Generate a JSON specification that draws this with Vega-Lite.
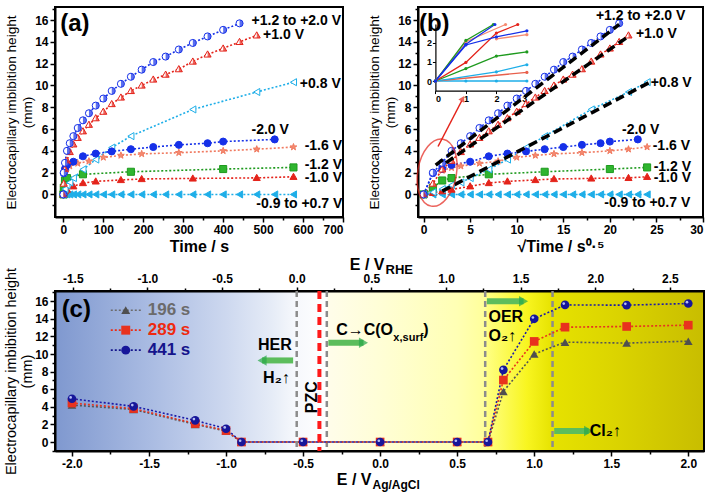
{
"$schema": "https://vega.github.io/schema/vega-lite/v6.json",
"background": "white",
"padding": {"left": 2, "top": 2, "right": 2, "bottom": 2},
"datasets": {
"ab": [
{"s":"-0.9 to +0.7 V","rt":0,"t":0,"h":0},{"s":"-0.9 to +0.7 V","rt":1,"t":1,"h":0},{"s":"-0.9 to +0.7 V","rt":2,"t":4,"h":0},{"s":"-0.9 to +0.7 V","rt":3,"t":9,"h":0},{"s":"-0.9 to +0.7 V","rt":4,"t":16,"h":0},{"s":"-0.9 to +0.7 V","rt":5,"t":25,"h":0},{"s":"-0.9 to +0.7 V","rt":6,"t":36,"h":0},{"s":"-0.9 to +0.7 V","rt":7,"t":49,"h":0},{"s":"-0.9 to +0.7 V","rt":8,"t":64,"h":0},{"s":"-0.9 to +0.7 V","rt":9,"t":81,"h":0},{"s":"-0.9 to +0.7 V","rt":10,"t":100,"h":0},{"s":"-0.9 to +0.7 V","rt":11,"t":121,"h":0},{"s":"-0.9 to +0.7 V","rt":12,"t":144,"h":0},{"s":"-0.9 to +0.7 V","rt":13,"t":169,"h":0},{"s":"-0.9 to +0.7 V","rt":14,"t":196,"h":0},{"s":"-0.9 to +0.7 V","rt":15,"t":225,"h":0},{"s":"-0.9 to +0.7 V","rt":16,"t":256,"h":0},{"s":"-0.9 to +0.7 V","rt":17,"t":289,"h":0},{"s":"-0.9 to +0.7 V","rt":18,"t":324,"h":0},{"s":"-0.9 to +0.7 V","rt":19,"t":361,"h":0},{"s":"-0.9 to +0.7 V","rt":20,"t":400,"h":0},{"s":"-0.9 to +0.7 V","rt":21,"t":441,"h":0},{"s":"-0.9 to +0.7 V","rt":22,"t":484,"h":0},{"s":"-0.9 to +0.7 V","rt":23,"t":529,"h":0},{"s":"-0.9 to +0.7 V","rt":24,"t":576,"h":0},
{"s":"-1.0 V","rt":0,"t":0,"h":0},{"s":"-1.0 V","rt":1,"t":1,"h":0.15},{"s":"-1.0 V","rt":2,"t":4,"h":0.3},{"s":"-1.0 V","rt":3,"t":9,"h":0.45},{"s":"-1.0 V","rt":5,"t":25,"h":0.75},{"s":"-1.0 V","rt":7,"t":49,"h":1.05},{"s":"-1.0 V","rt":9,"t":81,"h":1.2},{"s":"-1.0 V","rt":12,"t":144,"h":1.33},{"s":"-1.0 V","rt":14,"t":196,"h":1.42},{"s":"-1.0 V","rt":18,"t":324,"h":1.47},{"s":"-1.0 V","rt":22,"t":484,"h":1.52},{"s":"-1.0 V","rt":24,"t":576,"h":1.62},
{"s":"-1.2 V","rt":0,"t":0,"h":0},{"s":"-1.2 V","rt":1,"t":1,"h":0.62},{"s":"-1.2 V","rt":2,"t":4,"h":1.28},{"s":"-1.2 V","rt":3,"t":9,"h":1.5},{"s":"-1.2 V","rt":7,"t":49,"h":1.85},{"s":"-1.2 V","rt":13,"t":169,"h":2.08},{"s":"-1.2 V","rt":20,"t":400,"h":2.33},{"s":"-1.2 V","rt":24,"t":576,"h":2.48},
{"s":"-1.6 V","rt":2,"t":4,"h":2.2},{"s":"-1.6 V","rt":3,"t":9,"h":2.45},{"s":"-1.6 V","rt":4,"t":16,"h":2.6},{"s":"-1.6 V","rt":6,"t":36,"h":2.85},{"s":"-1.6 V","rt":8,"t":64,"h":3.05},{"s":"-1.6 V","rt":10,"t":100,"h":3.4},{"s":"-1.6 V","rt":12,"t":144,"h":3.58},{"s":"-1.6 V","rt":14,"t":196,"h":3.72},{"s":"-1.6 V","rt":17,"t":289,"h":3.83},{"s":"-1.6 V","rt":20,"t":400,"h":4.0},{"s":"-1.6 V","rt":22,"t":484,"h":4.15},{"s":"-1.6 V","rt":24,"t":576,"h":4.35},
{"s":"+0.8 V","rt":0,"t":0,"h":0},{"s":"+0.8 V","rt":1,"t":1,"h":0.2},{"s":"+0.8 V","rt":2,"t":4,"h":0.5},{"s":"+0.8 V","rt":3,"t":9,"h":0.85},{"s":"+0.8 V","rt":4,"t":16,"h":1.1},{"s":"+0.8 V","rt":5,"t":25,"h":1.5},{"s":"+0.8 V","rt":7,"t":49,"h":2.3},{"s":"+0.8 V","rt":9,"t":81,"h":3.2},{"s":"+0.8 V","rt":11,"t":121,"h":4.3},{"s":"+0.8 V","rt":13,"t":169,"h":5.35},{"s":"+0.8 V","rt":18,"t":324,"h":7.8},{"s":"+0.8 V","rt":22,"t":484,"h":9.4},{"s":"+0.8 V","rt":24,"t":576,"h":10.3},
{"s":"-2.0 V","rt":0,"t":0,"h":0},{"s":"-2.0 V","rt":1,"t":1,"h":1.95},{"s":"-2.0 V","rt":2,"t":4,"h":2.35},{"s":"-2.0 V","rt":3,"t":9,"h":2.7},{"s":"-2.0 V","rt":5,"t":25,"h":3.0},{"s":"-2.0 V","rt":7,"t":49,"h":3.5},{"s":"-2.0 V","rt":9,"t":81,"h":3.75},{"s":"-2.0 V","rt":11,"t":121,"h":3.95},{"s":"-2.0 V","rt":13,"t":169,"h":4.15},{"s":"-2.0 V","rt":15,"t":225,"h":4.35},{"s":"-2.0 V","rt":17,"t":289,"h":4.55},{"s":"-2.0 V","rt":19,"t":361,"h":4.7},{"s":"-2.0 V","rt":20,"t":400,"h":4.85},{"s":"-2.0 V","rt":23,"t":529,"h":5.05},
{"s":"+1.0 V","rt":0,"t":0,"h":0},{"s":"+1.0 V","rt":1,"t":1,"h":1.0},{"s":"+1.0 V","rt":2,"t":4,"h":2.3},{"s":"+1.0 V","rt":3,"t":9,"h":3.1},{"s":"+1.0 V","rt":4,"t":16,"h":3.9},{"s":"+1.0 V","rt":5,"t":25,"h":4.6},{"s":"+1.0 V","rt":6,"t":36,"h":5.2},{"s":"+1.0 V","rt":7,"t":49,"h":5.8},{"s":"+1.0 V","rt":8,"t":64,"h":6.4},{"s":"+1.0 V","rt":9,"t":81,"h":7.0},{"s":"+1.0 V","rt":10,"t":100,"h":7.6},{"s":"+1.0 V","rt":11,"t":121,"h":8.3},{"s":"+1.0 V","rt":12,"t":144,"h":8.9},{"s":"+1.0 V","rt":13,"t":169,"h":9.5},{"s":"+1.0 V","rt":14,"t":196,"h":10.0},{"s":"+1.0 V","rt":15,"t":225,"h":10.55},{"s":"+1.0 V","rt":16,"t":256,"h":11.0},{"s":"+1.0 V","rt":17,"t":289,"h":11.5},{"s":"+1.0 V","rt":18,"t":324,"h":12.2},{"s":"+1.0 V","rt":19,"t":361,"h":12.85},{"s":"+1.0 V","rt":20,"t":400,"h":13.4},{"s":"+1.0 V","rt":21,"t":441,"h":14.0},{"s":"+1.0 V","rt":22,"t":484,"h":14.6},
{"s":"+1.2 to +2.0 V","rt":0,"t":0,"h":0},{"s":"+1.2 to +2.0 V","rt":1,"t":1,"h":2.0},{"s":"+1.2 to +2.0 V","rt":2,"t":4,"h":2.9},{"s":"+1.2 to +2.0 V","rt":3,"t":9,"h":4.0},{"s":"+1.2 to +2.0 V","rt":4,"t":16,"h":4.7},{"s":"+1.2 to +2.0 V","rt":5,"t":25,"h":5.35},{"s":"+1.2 to +2.0 V","rt":6,"t":36,"h":6.1},{"s":"+1.2 to +2.0 V","rt":7,"t":49,"h":6.8},{"s":"+1.2 to +2.0 V","rt":8,"t":64,"h":7.45},{"s":"+1.2 to +2.0 V","rt":9,"t":81,"h":8.15},{"s":"+1.2 to +2.0 V","rt":10,"t":100,"h":8.8},{"s":"+1.2 to +2.0 V","rt":11,"t":121,"h":9.5},{"s":"+1.2 to +2.0 V","rt":12,"t":144,"h":10.15},{"s":"+1.2 to +2.0 V","rt":13,"t":169,"h":10.8},{"s":"+1.2 to +2.0 V","rt":14,"t":196,"h":11.45},{"s":"+1.2 to +2.0 V","rt":15,"t":225,"h":12.15},{"s":"+1.2 to +2.0 V","rt":16,"t":256,"h":12.65},{"s":"+1.2 to +2.0 V","rt":17,"t":289,"h":13.3},{"s":"+1.2 to +2.0 V","rt":18,"t":324,"h":13.9},{"s":"+1.2 to +2.0 V","rt":19,"t":361,"h":14.5},{"s":"+1.2 to +2.0 V","rt":20,"t":400,"h":15.1},{"s":"+1.2 to +2.0 V","rt":21,"t":441,"h":15.7}
],
"labA": [
{"label":"+1.2 to +2.0 V","t":471,"h":15.96},{"label":"+1.0 V","t":500,"h":14.6},{"label":"+0.8 V","t":592,"h":10.16},{"label":"-2.0 V","t":471,"h":5.94},{"label":"-1.6 V","t":604,"h":4.4},{"label":"-1.2 V","t":604,"h":2.72},{"label":"-1.0 V","t":604,"h":1.5},{"label":"-0.9 to +0.7  V","t":483,"h":-0.85}
],
"labB": [
{"label":"+1.2 to +2.0 V","rt":18.5,"h":16.4},{"label":"+1.0 V","rt":22.8,"h":14.7},{"label":"+0.8 V","rt":24.4,"h":10.25},{"label":"-2.0 V","rt":21.3,"h":5.94},{"label":"-1.6 V","rt":24.6,"h":4.4},{"label":"-1.2 V","rt":24.7,"h":2.5},{"label":"-1.0 V","rt":24.7,"h":1.53},{"label":"-0.9 to +0.7  V","rt":19.4,"h":-0.79}
],
"fits": [
{"f":"F1","rt":1.3,"h":2.7},{"f":"F1","rt":21,"h":15.6},{"f":"F2","rt":2.4,"h":2.9},{"f":"F2","rt":22,"h":14.5},{"f":"F3","rt":2.0,"h":0.3},{"f":"F3","rt":24.3,"h":10.3}
],
"inset": [
{"s":"i_cyan2","x":0,"y":0},{"s":"i_cyan2","x":1,"y":0},{"s":"i_cyan2","x":2,"y":0},{"s":"i_cyan2","x":3,"y":0},
{"s":"i_red2","x":0,"y":0},{"s":"i_red2","x":3,"y":0.45},
{"s":"i_cyan1","x":0,"y":0},{"s":"i_cyan1","x":2,"y":0.48},{"s":"i_cyan1","x":3,"y":0.85},
{"s":"i_green2","x":0,"y":0},{"s":"i_green2","x":1,"y":0.65},{"s":"i_green2","x":2,"y":1.3},{"s":"i_green2","x":3,"y":1.52},
{"s":"i_salmon2","x":2,"y":2.2},{"s":"i_salmon2","x":3,"y":2.42},
{"s":"i_red1","x":0,"y":0},{"s":"i_red1","x":1,"y":0.97},{"s":"i_red1","x":2,"y":2.5},{"s":"i_red1","x":2.7,"y":2.95},
{"s":"i_salmon1","x":0,"y":0},{"s":"i_salmon1","x":1,"y":2.05},{"s":"i_salmon1","x":2.3,"y":2.95},
{"s":"i_green1","x":0,"y":0},{"s":"i_green1","x":1,"y":2.12},{"s":"i_green1","x":1.9,"y":2.95},
{"s":"i_blue1","x":0,"y":0},{"s":"i_blue1","x":1,"y":1.92},{"s":"i_blue1","x":1.95,"y":2.95},
{"s":"i_blue2","x":0,"y":0},{"s":"i_blue2","x":1,"y":1.88},{"s":"i_blue2","x":2,"y":2.3},{"s":"i_blue2","x":3,"y":2.62}
],
"c": [
{"time":"196 s","E":-2.0,"h":4.2},{"time":"196 s","E":-1.6,"h":3.7},{"time":"196 s","E":-1.2,"h":2.0},{"time":"196 s","E":-1.0,"h":1.25},{"time":"196 s","E":-0.9,"h":0},{"time":"196 s","E":-0.5,"h":0},{"time":"196 s","E":0.0,"h":0},{"time":"196 s","E":0.5,"h":0},{"time":"196 s","E":0.7,"h":0},{"time":"196 s","E":0.8,"h":5.75},{"time":"196 s","E":1.0,"h":10.0},{"time":"196 s","E":1.2,"h":11.35},{"time":"196 s","E":1.6,"h":11.24},{"time":"196 s","E":2.0,"h":11.46},
{"time":"289 s","E":-2.0,"h":4.43},{"time":"289 s","E":-1.6,"h":3.8},{"time":"289 s","E":-1.2,"h":2.1},{"time":"289 s","E":-1.0,"h":1.3},{"time":"289 s","E":-0.9,"h":0},{"time":"289 s","E":-0.5,"h":0},{"time":"289 s","E":0.0,"h":0},{"time":"289 s","E":0.5,"h":0},{"time":"289 s","E":0.7,"h":0},{"time":"289 s","E":0.8,"h":7.04},{"time":"289 s","E":1.0,"h":11.43},{"time":"289 s","E":1.2,"h":13.05},{"time":"289 s","E":1.6,"h":13.13},{"time":"289 s","E":2.0,"h":13.28},
{"time":"441 s","E":-2.0,"h":4.92},{"time":"441 s","E":-1.6,"h":4.05},{"time":"441 s","E":-1.2,"h":2.46},{"time":"441 s","E":-1.0,"h":1.51},{"time":"441 s","E":-0.9,"h":0},{"time":"441 s","E":-0.5,"h":0},{"time":"441 s","E":0.0,"h":0},{"time":"441 s","E":0.5,"h":0},{"time":"441 s","E":0.7,"h":0},{"time":"441 s","E":0.8,"h":8.2},{"time":"441 s","E":1.0,"h":14.0},{"time":"441 s","E":1.2,"h":15.58},{"time":"441 s","E":1.6,"h":15.55},{"time":"441 s","E":2.0,"h":15.74}
],
"legC": [
{"time":"196 s","h":14.98},{"time":"289 s","h":12.71},{"time":"441 s","h":10.44}
],
"cTxt": [
{"txt":"OER","E":0.703,"h":14.2},{"txt":"O₂↑","E":0.703,"h":12.1},{"txt":"Cl₂↑","E":1.36,"h":1.25},{"txt":")","E":0.28,"h":12.75}
],
"arrAg": [
{"E1":-0.336,"E2":-0.108,"h":11.27},{"E1":0.693,"E2":0.931,"h":16.0},{"E1":1.13,"E2":1.353,"h":1.25}
]
},
"vconcat": [
{
"hconcat": [
{
"width": 288, "height": 210,
"view": {"stroke": "black", "strokeWidth": 2, "fill": "white"},
"layer": [
{"data": {"name": "ab"}, "mark": {"type": "line", "strokeDash": [2, 2], "strokeWidth": 1.6},
 "encoding": {
  "x": {"field": "t", "type": "quantitative", "scale": {"domain": [-21, 700], "nice": false, "zero": false},
        "axis": {"title": "Time / s", "titleFontSize": 16, "titlePadding": 3, "format": "d", "tickCount": 100, "values": [0,50,100,150,200,250,300,350,400,450,500,550,600,650,700], "labelExpr": "datum.value % 100 === 0 ? datum.label : ''", "tickSize": {"condition": {"test": "datum.value % 100 !== 0", "value": 3}, "value": 5}, "labelOverlap": false}},
  "y": {"field": "h", "type": "quantitative", "scale": {"domain": [-2.07, 17.2], "nice": false, "zero": false},
        "axis": {"title": ["Electrocapillary imbibition height", "(mm)"], "titleFontWeight": "normal", "titleFontSize": 13.6, "titleLineHeight": 16, "titlePadding": 0, "format": "d", "tickCount": 100, "values": [-1,0,1,2,3,4,5,6,7,8,9,10,11,12,13,14,15,16,17], "labelExpr": "datum.value % 2 === 0 && datum.value >= 0 && datum.value <= 16 ? datum.label : ''", "tickSize": {"condition": {"test": "datum.value % 2 !== 0", "value": 3}, "value": 5}, "labelOverlap": false}},
  "stroke": {"field": "s", "type": "nominal", "scale": {"domain": ["-0.9 to +0.7 V","-1.0 V","-1.2 V","-1.6 V","+0.8 V","-2.0 V","+1.0 V","+1.2 to +2.0 V"], "range": ["#1eaee8","#e4231a","#1e9a1e","#f07a60","#1eaee8","#1530e8","#e4231a","#1530e8"]}, "legend": null}
 }},
{"data": {"name": "ab"}, "mark": {"type": "point", "filled": true, "size": 50, "strokeWidth": 1, "opacity": 1},
 "encoding": {
  "x": {"field": "t", "type": "quantitative", "scale": {"domain": [-21, 700], "nice": false, "zero": false}},
  "y": {"field": "h", "type": "quantitative", "scale": {"domain": [-2.07, 17.2], "nice": false, "zero": false}},
  "stroke": {"field": "s", "type": "nominal", "scale": {"domain": ["-0.9 to +0.7 V","-1.0 V","-1.2 V","-1.6 V","+0.8 V","-2.0 V","+1.0 V","+1.2 to +2.0 V"], "range": ["#1eaee8","#e4231a","#1e9a1e","#f07a60","#1eaee8","#1530e8","#e4231a","#1530e8"]}, "legend": null},
  "fill": {"field": "s", "type": "nominal", "scale": {"domain": ["-0.9 to +0.7 V","-1.0 V","-1.2 V","-1.6 V","+0.8 V","-2.0 V","+1.0 V","+1.2 to +2.0 V"], "range": ["#1eaee8","#e4231a","#2fb52f","#f58a70","#ffffff","#1530e8","#ffffff","#ffffff"]}, "legend": null},
  "shape": {"field": "s", "type": "nominal", "scale": {"domain": ["-0.9 to +0.7 V","-1.0 V","-1.2 V","-1.6 V","+0.8 V","-2.0 V","+1.0 V","+1.2 to +2.0 V"], "range": ["triangle-left","M0,-1L1,0.75L-1,0.75Z","square","M0,-1L0.235,-0.324L0.951,-0.309L0.38,0.124L0.588,0.809L0,0.4L-0.588,0.809L-0.38,0.124L-0.951,-0.309L-0.235,-0.324Z","triangle-left","circle","M0,-1L1,0.75L-1,0.75Z","circle"]}, "legend": null}
 }},
{"data": {"name": "ab"}, "transform": [{"filter": "datum.s === '+1.2 to +2.0 V'"}],
 "mark": {"type": "point", "filled": true, "size": 50, "shape": "M0,-1A1,1,0,0,1,0,1Z", "fill": "#1530e8", "strokeWidth": 0},
 "encoding": {
  "x": {"field": "t", "type": "quantitative", "scale": {"domain": [-21, 700], "nice": false, "zero": false}},
  "y": {"field": "h", "type": "quantitative", "scale": {"domain": [-2.07, 17.2], "nice": false, "zero": false}}
 }},
{"data": {"name": "ab"}, "transform": [{"filter": "datum.s === '+1.0 V'"}],
 "mark": {"type": "point", "filled": true, "size": 50, "shape": "M0,-1L1,0.75L0,0.75Z", "fill": "#e4231a", "strokeWidth": 0},
 "encoding": {
  "x": {"field": "t", "type": "quantitative", "scale": {"domain": [-21, 700], "nice": false, "zero": false}},
  "y": {"field": "h", "type": "quantitative", "scale": {"domain": [-2.07, 17.2], "nice": false, "zero": false}}
 }},
{"data": {"name": "labA"}, "mark": {"type": "text", "align": "left", "baseline": "middle", "fontSize": 14, "fontWeight": "bold", "color": "black"},
 "encoding": {
  "x": {"field": "t", "type": "quantitative", "scale": {"domain": [-21, 700], "nice": false, "zero": false}},
  "y": {"field": "h", "type": "quantitative", "scale": {"domain": [-2.07, 17.2], "nice": false, "zero": false}},
  "text": {"field": "label"}
 }},
{"data": {"values": [{"tag": "(a)", "t": -8, "h": 15.66}]}, "mark": {"type": "text", "align": "left", "baseline": "middle", "fontSize": 24, "fontWeight": "bold", "color": "black"},
 "encoding": {
  "x": {"field": "t", "type": "quantitative", "scale": {"domain": [-21, 700], "nice": false, "zero": false}},
  "y": {"field": "h", "type": "quantitative", "scale": {"domain": [-2.07, 17.2], "nice": false, "zero": false}},
  "text": {"field": "tag"}
 }}
]
},
{
"width": 285, "height": 210,
"view": {"stroke": "black", "strokeWidth": 2, "fill": "white"},
"layer": [
{"layer": [
{"data": {"name": "ab"}, "mark": {"type": "line", "strokeDash": [2, 2], "strokeWidth": 1.6},
 "encoding": {
  "x": {"field": "rt", "type": "quantitative", "scale": {"domain": [-0.6, 30], "nice": false, "zero": false},
        "axis": {"title": "√Time / s⁰·⁵", "titleFontSize": 16, "titlePadding": 3, "format": "d", "tickCount": 100, "values": [0,2.5,5,7.5,10,12.5,15,17.5,20,22.5,25,27.5,30], "labelExpr": "datum.value % 5 === 0 ? datum.label : ''", "tickSize": {"condition": {"test": "datum.value % 5 !== 0", "value": 3}, "value": 5}, "labelOverlap": false}},
  "y": {"field": "h", "type": "quantitative", "scale": {"domain": [-2.07, 17.2], "nice": false, "zero": false},
        "axis": {"title": ["Electrocapillary imbibition height", "(mm)"], "titleFontWeight": "normal", "titleFontSize": 13.6, "titleLineHeight": 16, "titlePadding": 0, "format": "d", "tickCount": 100, "values": [-1,0,1,2,3,4,5,6,7,8,9,10,11,12,13,14,15,16,17], "labelExpr": "datum.value % 2 === 0 && datum.value >= 0 && datum.value <= 16 ? datum.label : ''", "tickSize": {"condition": {"test": "datum.value % 2 !== 0", "value": 3}, "value": 5}, "labelOverlap": false}},
  "stroke": {"field": "s", "type": "nominal", "scale": {"domain": ["-0.9 to +0.7 V","-1.0 V","-1.2 V","-1.6 V","+0.8 V","-2.0 V","+1.0 V","+1.2 to +2.0 V"], "range": ["#1eaee8","#e4231a","#1e9a1e","#f07a60","#1eaee8","#1530e8","#e4231a","#1530e8"]}, "legend": null}
 }},
{"data": {"name": "ab"}, "mark": {"type": "point", "filled": true, "size": 50, "strokeWidth": 1, "opacity": 1},
 "encoding": {
  "x": {"field": "rt", "type": "quantitative", "scale": {"domain": [-0.6, 30], "nice": false, "zero": false}},
  "y": {"field": "h", "type": "quantitative", "scale": {"domain": [-2.07, 17.2], "nice": false, "zero": false}},
  "stroke": {"field": "s", "type": "nominal", "scale": {"domain": ["-0.9 to +0.7 V","-1.0 V","-1.2 V","-1.6 V","+0.8 V","-2.0 V","+1.0 V","+1.2 to +2.0 V"], "range": ["#1eaee8","#e4231a","#1e9a1e","#f07a60","#1eaee8","#1530e8","#e4231a","#1530e8"]}, "legend": null},
  "fill": {"field": "s", "type": "nominal", "scale": {"domain": ["-0.9 to +0.7 V","-1.0 V","-1.2 V","-1.6 V","+0.8 V","-2.0 V","+1.0 V","+1.2 to +2.0 V"], "range": ["#1eaee8","#e4231a","#2fb52f","#f58a70","#ffffff","#1530e8","#ffffff","#ffffff"]}, "legend": null},
  "shape": {"field": "s", "type": "nominal", "scale": {"domain": ["-0.9 to +0.7 V","-1.0 V","-1.2 V","-1.6 V","+0.8 V","-2.0 V","+1.0 V","+1.2 to +2.0 V"], "range": ["triangle-left","M0,-1L1,0.75L-1,0.75Z","square","M0,-1L0.235,-0.324L0.951,-0.309L0.38,0.124L0.588,0.809L0,0.4L-0.588,0.809L-0.38,0.124L-0.951,-0.309L-0.235,-0.324Z","triangle-left","circle","M0,-1L1,0.75L-1,0.75Z","circle"]}, "legend": null}
 }},
{"data": {"name": "ab"}, "transform": [{"filter": "datum.s === '+1.2 to +2.0 V'"}],
 "mark": {"type": "point", "filled": true, "size": 50, "shape": "M0,-1A1,1,0,0,1,0,1Z", "fill": "#1530e8", "strokeWidth": 0},
 "encoding": {
  "x": {"field": "rt", "type": "quantitative", "scale": {"domain": [-0.6, 30], "nice": false, "zero": false}},
  "y": {"field": "h", "type": "quantitative", "scale": {"domain": [-2.07, 17.2], "nice": false, "zero": false}}
 }},
{"data": {"name": "ab"}, "transform": [{"filter": "datum.s === '+1.0 V'"}],
 "mark": {"type": "point", "filled": true, "size": 50, "shape": "M0,-1L1,0.75L0,0.75Z", "fill": "#e4231a", "strokeWidth": 0},
 "encoding": {
  "x": {"field": "rt", "type": "quantitative", "scale": {"domain": [-0.6, 30], "nice": false, "zero": false}},
  "y": {"field": "h", "type": "quantitative", "scale": {"domain": [-2.07, 17.2], "nice": false, "zero": false}}
 }},
{"data": {"name": "fits"}, "mark": {"type": "line", "color": "black", "strokeWidth": 3.5, "strokeDash": [9, 5]},
 "encoding": {
  "x": {"field": "rt", "type": "quantitative", "scale": {"domain": [-0.6, 30], "nice": false, "zero": false}},
  "y": {"field": "h", "type": "quantitative", "scale": {"domain": [-2.07, 17.2], "nice": false, "zero": false}},
  "detail": {"field": "f"}
 }},
{"data": {"values": [{"rt": 1.45, "h": 2.0}]}, "mark": {"type": "point", "filled": false, "shape": "M0,-1A0.57,1,0,0,1,0,1A0.57,1,0,0,1,0,-1Z", "size": 4624, "stroke": "#e4231a", "strokeWidth": 1.5, "angle": 10},
 "encoding": {
  "x": {"field": "rt", "type": "quantitative", "scale": {"domain": [-0.6, 30], "nice": false, "zero": false}},
  "y": {"field": "h", "type": "quantitative", "scale": {"domain": [-2.07, 17.2], "nice": false, "zero": false}}
 }},
{"data": {"values": [{"rt": 1.55, "h": 4.4, "rt2": 4.1, "h2": 8.6}]}, "mark": {"type": "rule", "color": "#e4231a", "strokeWidth": 1.5},
 "encoding": {
  "x": {"field": "rt", "type": "quantitative", "scale": {"domain": [-0.6, 30], "nice": false, "zero": false}},
  "y": {"field": "h", "type": "quantitative", "scale": {"domain": [-2.07, 17.2], "nice": false, "zero": false}},
  "x2": {"field": "rt2"}, "y2": {"field": "h2"}
 }},
{"data": {"values": [{"rt": 4.2, "h": 8.8}]}, "mark": {"type": "point", "filled": true, "shape": "triangle-up", "size": 45, "color": "#e4231a", "angle": 30},
 "encoding": {
  "x": {"field": "rt", "type": "quantitative", "scale": {"domain": [-0.6, 30], "nice": false, "zero": false}},
  "y": {"field": "h", "type": "quantitative", "scale": {"domain": [-2.07, 17.2], "nice": false, "zero": false}}
 }},
{"data": {"name": "labB"}, "mark": {"type": "text", "align": "left", "baseline": "middle", "fontSize": 14, "fontWeight": "bold", "color": "black"},
 "encoding": {
  "x": {"field": "rt", "type": "quantitative", "scale": {"domain": [-0.6, 30], "nice": false, "zero": false}},
  "y": {"field": "h", "type": "quantitative", "scale": {"domain": [-2.07, 17.2], "nice": false, "zero": false}},
  "text": {"field": "label"}
 }},
{"data": {"values": [{"tag": "(b)", "rt": -0.5, "h": 15.66}]}, "mark": {"type": "text", "align": "left", "baseline": "middle", "fontSize": 24, "fontWeight": "bold", "color": "black"},
 "encoding": {
  "x": {"field": "rt", "type": "quantitative", "scale": {"domain": [-0.6, 30], "nice": false, "zero": false}},
  "y": {"field": "h", "type": "quantitative", "scale": {"domain": [-2.07, 17.2], "nice": false, "zero": false}},
  "text": {"field": "tag"}
 }}
]},
{"data": {"name": "inset"}, "mark": {"type": "line", "strokeWidth": 1.3, "point": {"filled": true, "size": 10}},
 "encoding": {
  "x": {"field": "x", "type": "quantitative", "scale": {"domain": [0, 3.03], "range": [17.4, 109.8], "nice": false, "zero": false},
        "axis": {"orient": "bottom", "offset": -126.4, "tickCount": 100, "values": [0, 1, 2, 3], "title": null, "labelFontSize": 9, "tickSize": 3, "tickWidth": 1, "domainWidth": 1.2, "labelPadding": 1, "format": "d"}},
  "y": {"field": "y", "type": "quantitative", "scale": {"domain": [-0.5, 2.97], "range": [83.6, 17.1], "nice": false, "zero": false},
        "axis": {"orient": "left", "offset": -17.4, "tickCount": 100, "values": [0, 1, 2], "title": null, "labelFontSize": 9, "tickSize": 3, "tickWidth": 1, "domainWidth": 1.2, "labelPadding": 1, "format": "d"}},
  "color": {"field": "s", "type": "nominal", "scale": {"domain": ["i_cyan2","i_red2","i_cyan1","i_green2","i_salmon2","i_red1","i_salmon1","i_green1","i_blue1","i_blue2"], "range": ["#1eaee8","#e8604c","#1eaee8","#1e9a1e","#f58a70","#e4231a","#f58a70","#1e9a1e","#1530e8","#1530e8"]}, "legend": null}
 }}
],
"resolve": {"scale": {"x": "independent", "y": "independent"}, "axis": {"x": "independent", "y": "independent"}}
}
],
"spacing": 75,
"bounds": "flush"
},
{
"width": 649, "height": 160,
"view": {"stroke": "black", "strokeWidth": 2,
  "fill": {"gradient": "linear", "x1": 0, "y1": 0, "x2": 1, "y2": 0, "stops": [
    {"offset": 0, "color": "#7f98cf"},{"offset": 0.145, "color": "#a9bbe2"},{"offset": 0.264, "color": "#cdd8ef"},{"offset": 0.335, "color": "#e6ecf7"},{"offset": 0.37, "color": "#f6f8fc"},{"offset": 0.419, "color": "#ffffff"},{"offset": 0.421, "color": "#fffdea"},{"offset": 0.501, "color": "#fffed6"},{"offset": 0.62, "color": "#ffffb4"},{"offset": 0.662, "color": "#ffff9a"},{"offset": 0.667, "color": "#ffff80"},{"offset": 0.727, "color": "#f8f520"},{"offset": 0.767, "color": "#e6e200"},{"offset": 0.857, "color": "#dcd500"},{"offset": 1, "color": "#c8bd00"}]}},
"layer": [
{"layer": [
{"data": {"values": [{"E": -0.346}, {"E": 0.682}, {"E": 1.119}]}, "mark": {"type": "rule", "color": "#8c8c8c", "strokeWidth": 2.5, "strokeDash": [6, 4]},
 "encoding": {
  "x": {"field": "E", "type": "quantitative", "scale": {"domain": [-2.11, 2.102], "nice": false, "zero": false},
        "axis": {"orient": "bottom", "title": "E / V", "titleFontSize": 16, "titleX": 316, "titleY": 33, "titleAlign": "right", "titleBaseline": "alphabetic", "tickCount": 100, "values": [-2,-1.75,-1.5,-1.25,-1,-0.75,-0.5,-0.25,0,0.25,0.5,0.75,1,1.25,1.5,1.75,2], "labelExpr": "abs(datum.value * 2 - round(datum.value * 2)) < 0.001 ? replace(format(datum.value, '.1f'), '\u2212', '-') : ''", "tickSize": {"condition": {"test": "abs(datum.value * 2 - round(datum.value * 2)) >= 0.001", "value": 3}, "value": 5}, "labelOverlap": false}}
 }},
{"data": {"name": "c"}, "transform": [{"filter": "datum.time === '196 s'"}], "mark": {"type": "line", "strokeDash": [2, 2], "strokeWidth": 1.6, "color": "#555555"},
 "encoding": {
  "x": {"field": "E", "type": "quantitative", "scale": {"domain": [-2.11, 2.102], "nice": false, "zero": false}},
  "y": {"field": "h", "type": "quantitative", "scale": {"domain": [-1.02, 17.16], "nice": false, "zero": false},
        "axis": {"title": ["Electrocapillary imbibition height", "(mm)"], "titleFontWeight": "normal", "titleFontSize": 14.5, "titleLineHeight": 16, "titlePadding": 0, "format": "d", "tickCount": 100, "values": [-1,0,1,2,3,4,5,6,7,8,9,10,11,12,13,14,15,16,17], "labelExpr": "datum.value % 2 === 0 && datum.value >= 0 && datum.value <= 16 ? datum.label : ''", "tickSize": {"condition": {"test": "datum.value % 2 !== 0", "value": 3}, "value": 5}, "labelOverlap": false}}
 }},
{"data": {"name": "c"}, "transform": [{"filter": "datum.time === '289 s'"}], "mark": {"type": "line", "strokeDash": [2, 2], "strokeWidth": 1.6, "color": "#e8321e"},
 "encoding": {
  "x": {"field": "E", "type": "quantitative", "scale": {"domain": [-2.11, 2.102], "nice": false, "zero": false}},
  "y": {"field": "h", "type": "quantitative", "scale": {"domain": [-1.02, 17.16], "nice": false, "zero": false}}
 }},
{"data": {"name": "c"}, "transform": [{"filter": "datum.time === '441 s'"}], "mark": {"type": "line", "strokeDash": [2, 2], "strokeWidth": 1.6, "color": "#1a1aa8"},
 "encoding": {
  "x": {"field": "E", "type": "quantitative", "scale": {"domain": [-2.11, 2.102], "nice": false, "zero": false}},
  "y": {"field": "h", "type": "quantitative", "scale": {"domain": [-1.02, 17.16], "nice": false, "zero": false}}
 }},
{"data": {"name": "c"}, "mark": {"type": "point", "filled": true, "size": 75, "strokeWidth": 0, "opacity": 1},
 "encoding": {
  "x": {"field": "E", "type": "quantitative", "scale": {"domain": [-2.11, 2.102], "nice": false, "zero": false}},
  "y": {"field": "h", "type": "quantitative", "scale": {"domain": [-1.02, 17.16], "nice": false, "zero": false}},
  "fill": {"field": "time", "type": "nominal", "scale": {"domain": ["196 s", "289 s", "441 s"], "range": ["#4f4f4f", "#e8321e", "#16169a"]}, "legend": null},
  "shape": {"field": "time", "type": "nominal", "scale": {"domain": ["196 s", "289 s", "441 s"], "range": ["triangle-up", "square", "circle"]}, "legend": null}
 }},
{"data": {"name": "c"}, "transform": [{"filter": "datum.time === '441 s'"}],
 "mark": {"type": "point", "filled": true, "shape": "circle", "size": 7, "fill": "#c8d0ff", "opacity": 0.9, "xOffset": -1.3, "yOffset": -1.3},
 "encoding": {
  "x": {"field": "E", "type": "quantitative", "scale": {"domain": [-2.11, 2.102], "nice": false, "zero": false}},
  "y": {"field": "h", "type": "quantitative", "scale": {"domain": [-1.02, 17.16], "nice": false, "zero": false}}
 }},
{"data": {"name": "legC"}, "mark": {"type": "rule", "strokeDash": [2, 2], "strokeWidth": 1.6},
 "encoding": {
  "x": {"datum": -1.748, "type": "quantitative", "scale": {"domain": [-2.11, 2.102], "nice": false, "zero": false}},
  "x2": {"datum": -1.553},
  "y": {"field": "h", "type": "quantitative", "scale": {"domain": [-1.02, 17.16], "nice": false, "zero": false}},
  "color": {"field": "time", "type": "nominal", "scale": {"domain": ["196 s", "289 s", "441 s"], "range": ["#6b6b6b", "#ee2a10", "#14148c"]}, "legend": null}
 }},
{"data": {"name": "legC"}, "mark": {"type": "point", "filled": true, "size": 80, "strokeWidth": 0, "opacity": 1},
 "encoding": {
  "x": {"datum": -1.651, "type": "quantitative", "scale": {"domain": [-2.11, 2.102], "nice": false, "zero": false}},
  "y": {"field": "h", "type": "quantitative", "scale": {"domain": [-1.02, 17.16], "nice": false, "zero": false}},
  "fill": {"field": "time", "type": "nominal", "scale": {"domain": ["196 s", "289 s", "441 s"], "range": ["#4f4f4f", "#e8321e", "#16169a"]}, "legend": null},
  "shape": {"field": "time", "type": "nominal", "scale": {"domain": ["196 s", "289 s", "441 s"], "range": ["triangle-up", "square", "circle"]}, "legend": null}
 }},
{"data": {"name": "legC"}, "mark": {"type": "text", "align": "left", "baseline": "middle", "fontSize": 17, "fontWeight": "bold"},
 "encoding": {
  "x": {"datum": -1.508, "type": "quantitative", "scale": {"domain": [-2.11, 2.102], "nice": false, "zero": false}},
  "y": {"field": "h", "type": "quantitative", "scale": {"domain": [-1.02, 17.16], "nice": false, "zero": false}},
  "text": {"field": "time"},
  "color": {"field": "time", "type": "nominal", "scale": {"domain": ["196 s", "289 s", "441 s"], "range": ["#6b6b6b", "#ee2a10", "#14148c"]}, "legend": null}
 }},
{"data": {"name": "arrAg"}, "mark": {"type": "rule", "color": "#5cbd5c", "strokeWidth": 6},
 "encoding": {
  "x": {"field": "E1", "type": "quantitative", "scale": {"domain": [-2.11, 2.102], "nice": false, "zero": false}},
  "x2": {"field": "E2"},
  "y": {"field": "h", "type": "quantitative", "scale": {"domain": [-1.02, 17.16], "nice": false, "zero": false}}
 }},
{"data": {"name": "arrAg"}, "mark": {"type": "point", "filled": true, "shape": "triangle-right", "size": 110, "color": "#2aa84a"},
 "encoding": {
  "x": {"field": "E2", "type": "quantitative", "scale": {"domain": [-2.11, 2.102], "nice": false, "zero": false}},
  "y": {"field": "h", "type": "quantitative", "scale": {"domain": [-1.02, 17.16], "nice": false, "zero": false}}
 }},
{"data": {"name": "cTxt"}, "mark": {"type": "text", "align": "left", "baseline": "middle", "fontSize": 16, "fontWeight": "bold", "color": "black"},
 "encoding": {
  "x": {"field": "E", "type": "quantitative", "scale": {"domain": [-2.11, 2.102], "nice": false, "zero": false}},
  "y": {"field": "h", "type": "quantitative", "scale": {"domain": [-1.02, 17.16], "nice": false, "zero": false}},
  "text": {"field": "txt"}
 }},
{"data": {"values": [{"txt": "C→C(O", "E": 0.084, "h": 12.75}]}, "mark": {"type": "text", "align": "right", "baseline": "middle", "fontSize": 16, "fontWeight": "bold", "color": "black"},
 "encoding": {
  "x": {"field": "E", "type": "quantitative", "scale": {"domain": [-2.11, 2.102], "nice": false, "zero": false}},
  "y": {"field": "h", "type": "quantitative", "scale": {"domain": [-1.02, 17.16], "nice": false, "zero": false}},
  "text": {"field": "txt"}
 }},
{"data": {"values": [{"txt": "x,surf", "E": 0.086, "h": 11.85}]}, "mark": {"type": "text", "align": "left", "baseline": "middle", "fontSize": 11, "fontWeight": "bold", "color": "black"},
 "encoding": {
  "x": {"field": "E", "type": "quantitative", "scale": {"domain": [-2.11, 2.102], "nice": false, "zero": false}},
  "y": {"field": "h", "type": "quantitative", "scale": {"domain": [-1.02, 17.16], "nice": false, "zero": false}},
  "text": {"field": "txt"}
 }},
{"data": {"values": [{"txt": "(c)", "E": -2.067, "h": 14.95}]}, "mark": {"type": "text", "align": "left", "baseline": "middle", "fontSize": 24, "fontWeight": "bold", "color": "black"},
 "encoding": {
  "x": {"field": "E", "type": "quantitative", "scale": {"domain": [-2.11, 2.102], "nice": false, "zero": false}},
  "y": {"field": "h", "type": "quantitative", "scale": {"domain": [-1.02, 17.16], "nice": false, "zero": false}},
  "text": {"field": "txt"}
 }}
]},
{"data": {"values": [{"rhe": 0}]}, "mark": {"type": "rule", "color": "#8c8c8c", "strokeWidth": 2.5, "strokeDash": [6, 4]},
 "encoding": {
  "x": {"field": "rhe", "type": "quantitative", "scale": {"domain": [-1.619, 2.728], "nice": false, "zero": false},
        "axis": {"orient": "top", "title": "E / V", "titleFontSize": 16, "titleX": 329, "titleY": -22, "titleAlign": "right", "titleBaseline": "alphabetic", "tickSize": {"condition": {"test": "abs(datum.value * 2 - round(datum.value * 2)) >= 0.001", "value": 3}, "value": 4}, "tickCount": 100, "values": [-1.5,-1.25,-1,-0.75,-0.5,-0.25,0,0.25,0.5,0.75,1,1.25,1.5,1.75,2,2.25,2.5], "labelExpr": "abs(datum.value * 2 - round(datum.value * 2)) < 0.001 ? replace(format(datum.value, '.1f'), '\u2212', '-') : ''", "labelOverlap": false}}
 }},
{"layer": [
{"data": {"values": [{"E": -0.394}]}, "mark": {"type": "rule", "color": "#ff1a1a", "strokeWidth": 4, "strokeDash": [8, 5]},
 "encoding": {
  "x": {"field": "E", "type": "quantitative", "scale": {"domain": [-2.11, 2.102], "nice": false, "zero": false},
        "axis": {"orient": "bottom", "labels": false, "ticks": false, "domain": false, "title": "Ag/AgCl", "titleFontSize": 12, "titleX": 317, "titleY": 37, "titleAlign": "left", "titleBaseline": "alphabetic"}}
 }},
{"data": {"values": [{"txt": "PZC", "E": -0.4435, "h": 5.1}]}, "mark": {"type": "text", "align": "center", "baseline": "middle", "fontSize": 16, "fontWeight": "bold", "color": "black", "angle": 270},
 "encoding": {
  "x": {"field": "E", "type": "quantitative", "scale": {"domain": [-2.11, 2.102], "nice": false, "zero": false}},
  "y": {"field": "h", "type": "quantitative", "scale": {"domain": [-1.02, 17.16], "nice": false, "zero": false}},
  "text": {"field": "txt"}
 }}
]},
{"layer": [
{"data": {"values": [{"r1": -0.024, "r2": -0.232, "h": 9.27}]}, "mark": {"type": "rule", "color": "#5cbd5c", "strokeWidth": 6},
 "encoding": {
  "x": {"field": "r1", "type": "quantitative", "scale": {"domain": [-1.619, 2.728], "nice": false, "zero": false},
        "axis": {"orient": "top", "labels": false, "ticks": false, "domain": false, "title": "RHE", "titleFontSize": 13, "titleX": 330, "titleY": -17.5, "titleAlign": "left", "titleBaseline": "alphabetic"}},
  "x2": {"field": "r2"},
  "y": {"field": "h", "type": "quantitative", "scale": {"domain": [-1.02, 17.16], "nice": false, "zero": false}}
 }},
{"data": {"values": [{"r1": -0.024, "r2": -0.232, "h": 9.27}]}, "mark": {"type": "point", "filled": true, "shape": "triangle-left", "size": 110, "color": "#2aa84a"},
 "encoding": {
  "x": {"field": "r2", "type": "quantitative", "scale": {"domain": [-1.619, 2.728], "nice": false, "zero": false}},
  "y": {"field": "h", "type": "quantitative", "scale": {"domain": [-1.02, 17.16], "nice": false, "zero": false}}
 }},
{"data": {"values": [{"txt": "HER", "rhe": -0.259, "h": 11.0}, {"txt": "H₂↑", "rhe": -0.225, "h": 7.3}]}, "mark": {"type": "text", "align": "left", "baseline": "middle", "fontSize": 16, "fontWeight": "bold", "color": "black"},
 "encoding": {
  "x": {"field": "rhe", "type": "quantitative", "scale": {"domain": [-1.619, 2.728], "nice": false, "zero": false}},
  "y": {"field": "h", "type": "quantitative", "scale": {"domain": [-1.02, 17.16], "nice": false, "zero": false}},
  "text": {"field": "txt"}
 }}
]}
],
"resolve": {"scale": {"x": "independent"}, "axis": {"x": "independent"}}
}
],
"spacing": 0,
"resolve": {"scale": {"color": "independent", "fill": "independent", "stroke": "independent", "shape": "independent"}},
"config": {
  "font": "Liberation Sans",
  "view": {"stroke": "black", "strokeWidth": 2},
  "axis": {"labelFont": "Liberation Sans", "labelFontSize": 12, "labelFontWeight": "bold", "labelColor": "#000000", "titleFont": "Liberation Sans", "titleFontWeight": "bold", "titleColor": "#000000", "domainColor": "#000000", "domainWidth": 2, "tickColor": "#000000", "tickWidth": 1.5, "tickSize": 5, "labelPadding": 2, "grid": false},
  "legend": {"labelFont": "Liberation Sans"},
  "text": {"font": "Liberation Sans"}
}
}
